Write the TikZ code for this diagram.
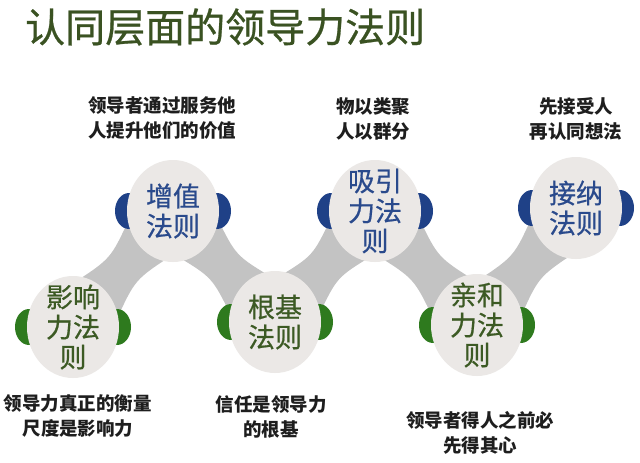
\documentclass[tikz,border=0pt]{standalone}
\usepackage{fontspec}
\newfontfamily\cjk{Noto Sans CJK SC}
\newfontfamily\cjkm[FakeBold=0.6]{Noto Sans CJK SC}
\usetikzlibrary{calc,shapes.geometric}
\pgfdeclarelayer{background}
\pgfsetlayers{background,main}
\definecolor{titlegreen}{HTML}{3A5222}
\definecolor{tblue}{HTML}{2A4A8C}
\definecolor{tgreen}{HTML}{3C5A24}
\definecolor{sideblue}{HTML}{1F4187}
\definecolor{sidegreen}{HTML}{2E7A1E}
\definecolor{discgray}{HTML}{EBE8E6}
\definecolor{bandgray}{HTML}{C3C3C3}
\definecolor{captext}{HTML}{1E1E1E}
\begin{document}
\begin{tikzpicture}[x=1pt,y=-1pt,
  disc/.style={ellipse, fill=discgray, minimum width=92pt, minimum height=102pt, inner sep=0pt},
  lawtext/.style={font=\cjkm\fontsize{27}{30}\selectfont, align=center, inner sep=0pt},
  lawblue/.style={lawtext, text=tblue},
  lawgreen/.style={lawtext, text=tgreen},
  caption/.style={font=\cjk\bfseries\fontsize{18.5}{25.5}\selectfont, align=center, text=captext, inner sep=0pt},
  band/.style={fill=bandgray},
  sideblob/.style={x radius=14pt, y radius=18pt}
]
\useasboundingbox (0,0) rectangle (640,463);

\node[font=\cjkm\fontsize{40}{44}\selectfont, text=titlegreen, anchor=west, inner sep=0pt] (title) at (25,27) {认同层面的领导力法则};

% discs
\node[disc] (n1) at (73,327) {};
\node[disc] (n2) at (173,211) {};
\node[disc] (n3) at (275,322) {};
\node[disc] (n4) at (375,211) {};
\node[disc] (n5) at (477,325) {};
\node[disc] (n6) at (576,208) {};

\node[lawgreen] (t1) at (n1) {影响\\力法\\则};
\node[lawblue]  (t2) at (n2) {增值\\法则};
\node[lawgreen] (t3) at (n3) {根基\\法则};
\node[lawblue]  (t4) at (n4) {吸引\\力法\\则};
\node[lawgreen] (t5) at (n5) {亲和\\力法\\则};
\node[lawblue]  (t6) at (n6) {接纳\\法则};

% captions
\node[caption] (c2) at (162,118) {领导者通过服务他\\人提升他们的价值};
\node[caption] (c4) at (373,119) {物以类聚\\人以群分};
\node[caption] (c6) at (576,119) {先接受人\\再认同想法};
\node[caption] (c1) at (78,416) {领导力真正的衡量\\尺度是影响力};
\node[caption] (c3) at (271,417) {信任是领导力\\的根基};
\node[caption] (c5) at (480,433) {领导者得人之前必\\先得其心};

\begin{pgfonlayer}{background}
\fill[white] (0,0) rectangle (640,463);
\foreach \a/\b in {n1/n2,n2/n3,n3/n4,n4/n5,n5/n6} {
  \coordinate (m) at ($(\a.center)!0.5!(\b.center)$);
  \fill[band] ($(\a.center)!44pt!40:(\b.center)$)
     .. controls ($(m)!16pt!90:(\b.center)$) .. ($(\b.center)!44pt!-40:(\a.center)$)
     -- ($(\b.center)!44pt!40:(\a.center)$)
     .. controls ($(m)!16pt!-90:(\b.center)$) .. ($(\a.center)!44pt!-40:(\b.center)$) -- cycle;
}
\foreach \n in {n1,n3,n5} {
  \fill[sidegreen] ($(\n.center)+(-44,0)$) ellipse [sideblob];
  \fill[sidegreen] ($(\n.center)+(44,0)$) ellipse [sideblob];
}
\foreach \n in {n2,n4,n6} {
  \fill[sideblue] ($(\n.center)+(-44,0)$) ellipse [sideblob];
  \fill[sideblue] ($(\n.center)+(44,0)$) ellipse [sideblob];
}
\end{pgfonlayer}
\end{tikzpicture}
\end{document}
